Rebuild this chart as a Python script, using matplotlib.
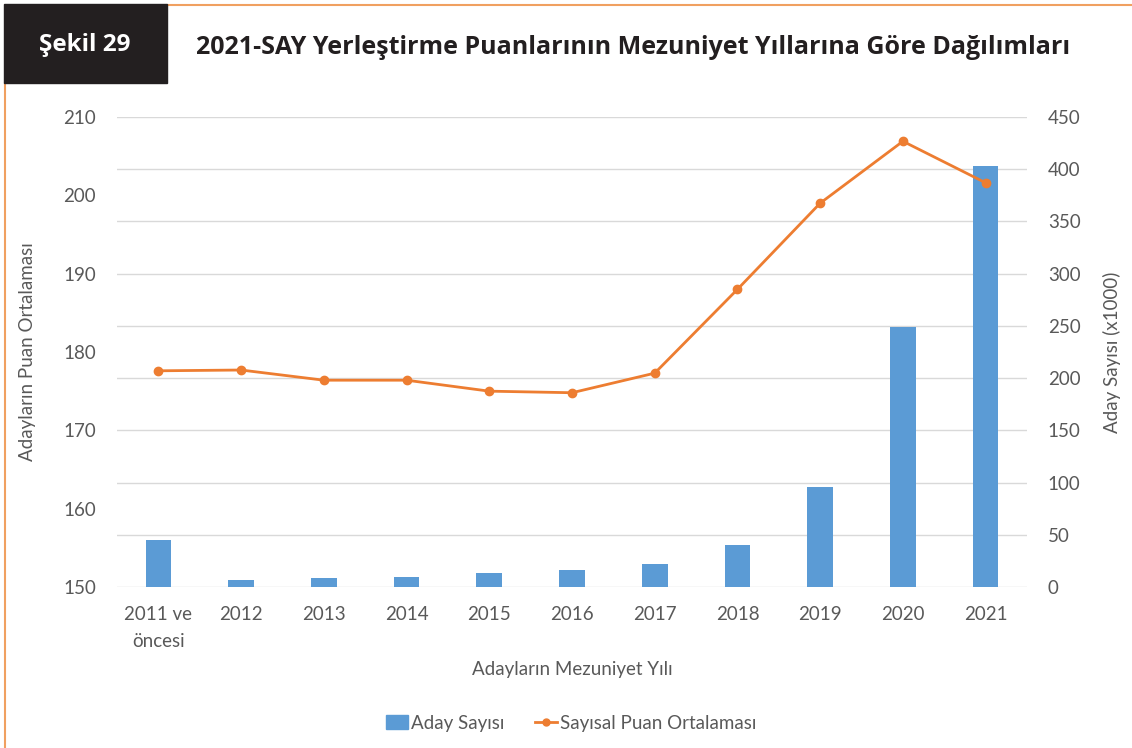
import matplotlib.pyplot as plt
import matplotlib.patches as mpatches
from matplotlib.lines import Line2D

years = ["2011 ve\nöncesi", "2012", "2013", "2014", "2015", "2016",
         "2017", "2018", "2019", "2020", "2021"]
aday_sayisi = [45, 6.7, 8.6, 9.6, 13.4, 16.3, 22, 40, 96, 249, 403]
puan_ort = [177.6, 177.7, 176.4, 176.4, 175.0, 174.8, 177.3, 188.0, 199.0, 206.9, 201.6]

blue = "#5B9BD5"
orange = "#ED7D31"
grey = "#595959"
font = "Lato"

fig = plt.figure(figsize=(11.32, 7.48), dpi=100)

# header
fig.patches.append(mpatches.Rectangle((4 / 1132, 1 - 83 / 748), 163 / 1132, 79 / 748,
                                      transform=fig.transFigure, color="#231F20", zorder=5))
fig.lines.append(Line2D([167 / 1132, 1], [1 - 5 / 748, 1 - 5 / 748], transform=fig.transFigure,
                        color="#F0A060", lw=1.5))
fig.lines.append(Line2D([5 / 1132, 5 / 1132], [1 - 83 / 748, 0], transform=fig.transFigure,
                        color="#F0A060", lw=1.5))
fig.text(85 / 1132, 1 - 45 / 748, "Şekil 29", color="white", fontsize=17.5, fontweight="bold",
         family="Open Sans", ha="center", va="center", zorder=6)
fig.text(196 / 1132, 1 - 47 / 748, "2021-SAY Yerleştirme Puanlarının Mezuniyet Yıllarına Göre Dağılımları",
         color="#231F20", fontsize=18, fontweight="bold", family="Open Sans", ha="left", va="center")

ax = fig.add_axes([117 / 1132, 1 - 587 / 748, 910 / 1132, 470 / 748])
ax2 = ax.twinx()
x = range(len(years))

ax2.bar(x, aday_sayisi, width=0.31, color=blue, zorder=2)
ax2.set_ylim(0, 450)
ax2.set_yticks(range(0, 451, 50))

ax.plot(x, puan_ort, color=orange, lw=2, marker="o", markersize=6, zorder=3)
ax.set_ylim(150, 210)
ax.set_yticks(range(150, 211, 10))
ax.set_xlim(-0.5, len(years) - 0.5)
ax.set_xticks(list(x))
ax.set_xticklabels(years, linespacing=1.7)

# line above bars
ax.set_zorder(ax2.get_zorder() + 1)
ax.patch.set_visible(False)
ax2.grid(axis="y", color="#D9D9D9", lw=1, zorder=0)
ax2.set_axisbelow(True)

for a in (ax, ax2):
    for s in a.spines.values():
        s.set_visible(False)
    a.tick_params(length=0, labelsize=13.5, labelcolor=grey)
    for lab in a.get_xticklabels() + a.get_yticklabels():
        lab.set_family(font)
ax.tick_params(axis="y", pad=15)
ax.tick_params(axis="x", pad=14)
ax2.tick_params(axis="y", pad=15)

ax.set_ylabel("Adayların Puan Ortalaması", fontsize=13.5, color=grey, family=font, labelpad=20)
ax2.set_ylabel("Aday Sayısı (x1000)", fontsize=13.5, color=grey, family=font, labelpad=16)
ax.set_xlabel("Adayların Mezuniyet Yılı", fontsize=13.5, color=grey, family=font, labelpad=8)

handles = [mpatches.Patch(color=blue, label="Aday Sayısı"),
           Line2D([], [], color=orange, lw=2, marker="o", markersize=5, label="Sayısal Puan Ortalaması")]
fig.legend(handles=handles, loc="center", bbox_to_anchor=(571 / 1132, 1 - 723 / 748), ncol=2,
           frameon=False, prop={"family": font, "size": 13.5}, labelcolor=grey,
           handlelength=1.2, handletextpad=0.15, columnspacing=1.6)

fig.savefig("out.png", dpi=100)
